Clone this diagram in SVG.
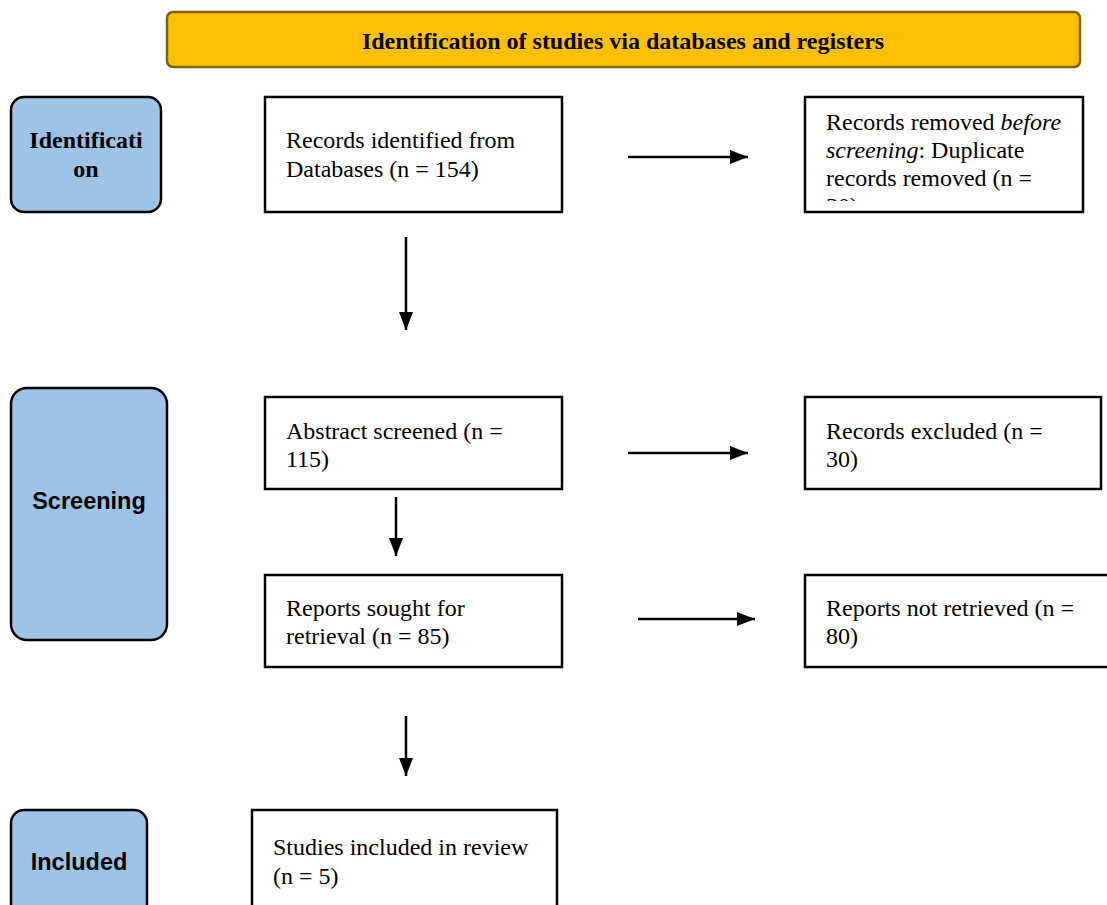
<svg xmlns="http://www.w3.org/2000/svg" width="1107" height="905" viewBox="0 0 1107 905">
<style>
.box{fill:#fff;stroke:#000;stroke-width:2.5}
.stage{fill:#9DC3E6;stroke:#000;stroke-width:2.5}
.t{font-family:"Liberation Serif","Times New Roman",serif;font-size:24px;fill:#000}
.sb{font-family:"Liberation Sans",Arial,sans-serif;font-size:23.5px;font-weight:bold;fill:#000}
.tb{font-family:"Liberation Serif","Times New Roman",serif;font-size:24px;font-weight:bold;fill:#000}
.arr{stroke:#000;stroke-width:2.5;fill:none;marker-end:url(#ah)}
</style>
<defs>
<marker id="ah" markerWidth="18" markerHeight="14" refX="18" refY="7" orient="auto" markerUnits="userSpaceOnUse" viewBox="0 0 18 14">
<path d="M0,0 L18,7 L0,14 Z" fill="#000"/>
</marker>
<clipPath id="clipRemoved"><rect x="805" y="97" width="278" height="104"/></clipPath>
</defs>
<rect width="1107" height="905" fill="#fff"/>
<g id="header">
<rect x="167" y="12" width="913" height="55" rx="6" fill="#FFC000" stroke="#806000" stroke-width="2.5"/>
<text class="tb" x="623" y="49" text-anchor="middle">Identification of studies via databases and registers</text>
</g>
<g id="stage-identification">
<rect class="stage" x="11" y="97" width="150" height="115" rx="13"/>
<text class="tb" x="86" y="148" text-anchor="middle">Identificati</text>
<text class="tb" x="86" y="177" text-anchor="middle">on</text>
</g>
<g id="records-identified">
<rect class="box" x="265" y="97" width="297" height="115"/>
<text class="t" x="286" y="148">Records identified from</text>
<text class="t" x="286" y="177">Databases (n = 154)</text>
</g>
<g id="records-removed">
<rect class="box" x="805" y="97" width="278" height="115"/>
<g clip-path="url(#clipRemoved)">
<text class="t" x="826" y="130">Records removed <tspan font-style="italic">before</tspan></text>
<text class="t" x="826" y="158"><tspan font-style="italic">screening</tspan>: Duplicate</text>
<text class="t" x="826" y="186">records removed (n =</text>
<text class="t" x="826" y="214">30)</text>
</g>
</g>
<g id="stage-screening">
<rect class="stage" x="11" y="388" width="156" height="252" rx="16"/>
<text class="sb" x="89" y="509" text-anchor="middle">Screening</text>
</g>
<g id="abstract-screened">
<rect class="box" x="265" y="397" width="297" height="92"/>
<text class="t" x="286" y="439">Abstract screened (n =</text>
<text class="t" x="286" y="467">115)</text>
</g>
<g id="records-excluded">
<rect class="box" x="805" y="397" width="296" height="92"/>
<text class="t" x="826" y="439">Records excluded (n =</text>
<text class="t" x="826" y="467">30)</text>
</g>
<g id="reports-sought">
<rect class="box" x="265" y="575" width="297" height="92"/>
<text class="t" x="286" y="616">Reports sought for</text>
<text class="t" x="286" y="644">retrieval (n = 85)</text>
</g>
<g id="reports-not-retrieved">
<rect class="box" x="805" y="575" width="320" height="92"/>
<text class="t" x="826" y="616">Reports not retrieved (n =</text>
<text class="t" x="826" y="644">80)</text>
</g>
<g id="stage-included">
<rect class="stage" x="11" y="810" width="136" height="120" rx="13"/>
<text class="sb" x="79" y="870" text-anchor="middle">Included</text>
</g>
<g id="studies-included">
<rect class="box" x="252" y="810" width="305" height="120"/>
<text class="t" x="273" y="855">Studies included in review</text>
<text class="t" x="273" y="884">(n = 5)</text>
</g>
<g id="connectors">
<line class="arr" x1="628" y1="157" x2="748" y2="157"/>
<line class="arr" x1="406" y1="237" x2="406" y2="330"/>
<line class="arr" x1="628" y1="453" x2="748" y2="453"/>
<line class="arr" x1="396" y1="497" x2="396" y2="556"/>
<line class="arr" x1="638" y1="619" x2="755" y2="619"/>
<line class="arr" x1="406" y1="716" x2="406" y2="776"/>
</g>
</svg>
